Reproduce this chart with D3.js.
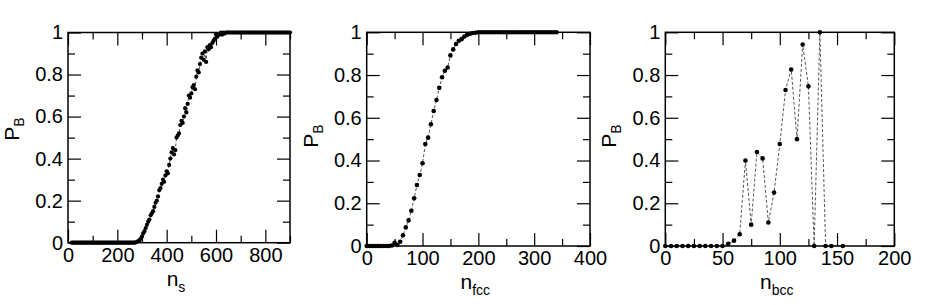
<!DOCTYPE html>
<html>
<head>
<meta charset="utf-8">
<script src="https://cdn.jsdelivr.net/npm/d3@7"></script>
<style>
    body { margin: 0; background: #fff; }
    text { font-family: "Liberation Sans", Arial, Helvetica, sans-serif; }
</style>
</head>
<body>
<svg id="chart" width="927" height="305"></svg>
<script>
// ---- data ----
var nsX = [
    15,20,25,30,35,40,45,50,55,60,65,70,75,
    80,85,90,95,100,105,110,115,120,125,130,135,140,
    145,150,155,160,165,170,175,180,185,190,195,200,205,
    210,215,220,225,230,235,240,245,250,255,260,265,270,
    275,280,285,290,295,300,305,310,315,320,325,330,335,340,
    345,350,355,360,365,370,375,380,385,390,395,400,405,410,
    415,420,425,430,435,440,445,450,455,460,465,470,475,480,
    485,490,495,500,505,510,515,520,525,530,535,540,545,550,
    555,560,565,570,575,580,585,590,595,600,605,610,
    615,620,625,630,635,640,645,650,655,660,665,670,675,680,
    685,690,695,700,705,710,715,720,725,730,735,740,745,750,
    755,760,765,770,775,780,785,790,795,800,805,810,815,820,
    825,830,835,840,845,850,855,860,865,870,875,880,885,890,895,900
];
var nsP = [
    0,0,0,0,0,0,0,0,0,0,0,0,0,
    0,0,0,0,0,0,0,0,0,0,0,0,0,
    0,0,0,0,0,0,0,0,0,0,0,0,0,
    0,0,0,0,0,0,0,0,0,0,0,0,0,
    0.002,0.004,0.008,0.012,0.02,0.03,0.045,0.055,0.07,0.085,0.1,0.11,0.13,0.14,
    0.15,0.17,0.19,0.2,0.22,0.25,0.26,0.28,0.3,0.29,0.32,0.34,0.33,0.37,
    0.4,0.43,0.45,0.42,0.44,0.5,0.51,0.52,0.56,0.58,0.57,0.6,0.64,0.62,
    0.66,0.7,0.69,0.71,0.74,0.75,0.73,0.79,0.82,0.81,0.85,0.88,0.9,0.87,
    0.91,0.86,0.93,0.92,0.94,0.93,0.95,0.96,0.97,0.99,0.98,0.99,
    0.99,1,0.99,1,0.995,1,1,1,1,1,1,1,1,1,
    1,1,1,1,1,1,1,1,1,1,1,1,1,1,
    1,1,1,1,1,1,1,1,1,1,1,1,1,1,
    1,1,1,1,1,1,1,1,1,1,1,1,1,1,1,1
];

var fccX = [
    0,5,10,15,20,25,30,35,40,45,50,55,60,
    65,70,75,80,85,90,95,100,105,110,115,120,125,
    130,135,140,145,150,155,160,165,170,175,180,185,190,
    195,200,205,210,215,220,225,230,235,240,245,250,255,
    260,265,270,275,280,285,290,295,300,305,310,315,320,325,330,335,340
];
var fccP = [
    0,0,0,0,0,0,0,0,0,0.002,0.015,0.005,0.02,
    0.05,0.087,0.12,0.165,0.223,0.285,0.332,0.387,0.477,0.507,0.57,0.632,0.683,
    0.74,0.79,0.82,0.835,0.892,0.92,0.945,0.96,0.968,0.98,0.988,0.993,0.997,
    0.998,1,1,1,1,1,1,1,1,1,1,1,1,
    1,1,1,1,1,1,1,1,1,1,1,1,1,1,1,1,1
];

var bccX = [0,5,10,15,20,25,30,35,40,45,50,55,60,65,70,75,80,85,90,95,100,
            105,110,115,120,125,130,135,140,145,155];
var bccP = [0,0,0,0,0,0,0,0,0,0,0,0.01,0.025,0.055,0.4,0.1,0.44,0.41,0.11,0.25,0.477,
            0.73,0.826,0.5,0.943,0.747,0,1,0,0,0];

var yMajor = [0, 0.2, 0.4, 0.6, 0.8, 1];
var yMinor = [0.1, 0.3, 0.5, 0.7, 0.9];
var nsMajor = [0, 200, 400, 600, 800], nsMinor = [100, 300, 500, 700, 900];
var fccMajor = [0, 100, 200, 300, 400], fccMinor = [50, 150, 250, 350];
var bccMajor = [0, 50, 100, 150, 200], bccMinor = [25, 75, 125, 175];

// ---- layout ----
var panels = [
    {xs: nsX, ys: nsP, xMax: 900, major: nsMajor, minor: nsMinor, sub: 's',
     left: 68, right: 290, top: 32.5, bottom: 242.7, r: 2.1, yTitle: 129, xTitle: 285.5},
    {xs: fccX, ys: fccP, xMax: 400, major: fccMajor, minor: fccMinor, sub: 'fcc',
     left: 366.7, right: 590, top: 32.3, bottom: 246, r: 2.3, yTitle: 136, xTitle: 288.5},
    {xs: bccX, ys: bccP, xMax: 200, major: bccMajor, minor: bccMinor, sub: 'bcc',
     left: 665.3, right: 894.3, top: 32.3, bottom: 246, r: 2.3, yTitle: 136, xTitle: 288.5}
];

var svg = d3.select('#chart');
var majorLen = 13, minorLen = 7;

panels.forEach(drawPanel);

function drawPanel(p) {
    var x = d3.scaleLinear().domain([0, p.xMax]).range([p.left, p.right]);
    var y = d3.scaleLinear().domain([0, 1]).range([p.bottom, p.top]);
    var g = svg.append('g');
    var pts = p.xs.map(function(n, i) { return [n, p.ys[i]]; });

    // dashed connecting line + dots
    var line = d3.line()
        .x(function(d) { return x(d[0]); })
        .y(function(d) { return y(d[1]); });
    g.append('path')
        .datum(pts)
        .attr('d', line)
        .attr('fill', 'none')
        .attr('stroke', '#444')
        .attr('stroke-width', 0.9)
        .attr('stroke-dasharray', '3,2');
    g.selectAll('.dot')
        .data(pts)
        .enter().append('circle')
        .attr('class', 'dot')
        .attr('cx', function(d) { return x(d[0]); })
        .attr('cy', function(d) { return y(d[1]); })
        .attr('r', p.r)
        .attr('fill', '#000');

    // axes, ticks pointing inward on all four sides
    function addAxis(axis, tx, ty, len, vals, labels) {
        var a = g.append('g')
            .attr('transform', 'translate(' + tx + ',' + ty + ')')
            .call(axis.tickValues(vals).tickSizeInner(-len).tickSizeOuter(0).tickPadding(5)
                .tickFormat(labels ? function(d) { return String(d); } : ''));
        a.select('.domain').remove();
        a.selectAll('line').attr('stroke', '#000').attr('stroke-width', 1.2);
        a.selectAll('text').attr('fill', '#000').style('font-size', '20px')
            .style('font-family', '"Liberation Sans", Arial, sans-serif');
    }
    addAxis(d3.axisBottom(x), 0, p.bottom, majorLen, p.major, true);
    addAxis(d3.axisBottom(x), 0, p.bottom, minorLen, p.minor, false);
    addAxis(d3.axisTop(x), 0, p.top, majorLen, p.major, false);
    addAxis(d3.axisTop(x), 0, p.top, minorLen, p.minor, false);
    addAxis(d3.axisLeft(y), p.left, 0, majorLen, yMajor, true);
    addAxis(d3.axisLeft(y), p.left, 0, minorLen, yMinor, false);
    addAxis(d3.axisRight(y), p.right, 0, majorLen, yMajor, false);
    addAxis(d3.axisRight(y), p.right, 0, minorLen, yMinor, false);

    g.append('rect')
        .attr('x', p.left).attr('y', p.top)
        .attr('width', p.right - p.left).attr('height', p.bottom - p.top)
        .attr('fill', 'none').attr('stroke', '#000').attr('stroke-width', 1.5);

    // axis titles
    var xt = g.append('text')
        .attr('x', (p.left + p.right) / 2 - 3)
        .attr('y', p.xTitle)
        .attr('text-anchor', 'middle')
        .style('font-size', '21px');
    xt.append('tspan').text('n');
    xt.append('tspan').attr('dy', 6).style('font-size', '14px').text(p.sub);

    var yt = g.append('text')
        .attr('transform', 'translate(' + (p.left - 49) + ',' + p.yTitle + ') rotate(-90)')
        .attr('text-anchor', 'middle')
        .style('font-size', '21px');
    yt.append('tspan').text('P');
    yt.append('tspan').attr('dy', 5).style('font-size', '14px').text('B');
}
</script>
</body>
</html>
